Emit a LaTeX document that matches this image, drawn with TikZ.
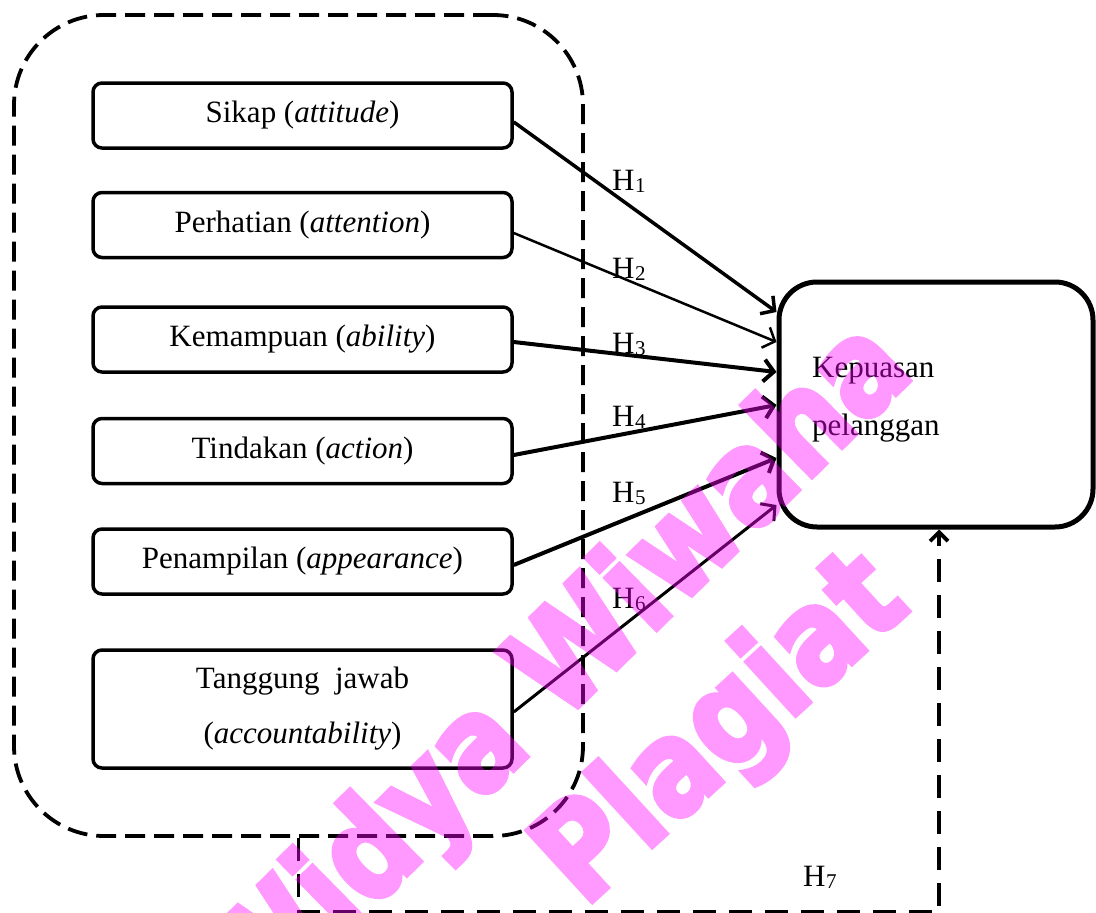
\documentclass[tikz,border=0pt]{standalone}
\usepackage{fontspec}
\setmainfont{Liberation Serif}
\newfontfamily\wmfont{DejaVu Sans}[FakeBold=4]
\usetikzlibrary{arrows.meta}
\definecolor{wmc}{RGB}{255,0,255}
\newcommand{\hlabtxt}[1]{H\kern0.5pt\raisebox{-2pt}{\fontsize{21}{21}\selectfont #1}}
\begin{document}
\begin{tikzpicture}[x=1pt,y=-1pt,
  every node/.style={font=\fontsize{31}{37}\selectfont, inner sep=0pt},
  fbox/.style={draw, line width=3.5pt, rounded corners=9pt, minimum width=419pt, minimum height=65pt, fill=white},
  grpbox/.style={draw, line width=3.8pt, dash pattern=on 20pt off 9pt, rounded corners=90pt, minimum width=569pt, minimum height=821pt},
  kpbox/.style={draw, line width=5pt, rounded corners=38pt, minimum width=314pt, minimum height=245pt, fill=white},
  arr/.style={-{Straight Barb[length=10pt,width=22pt]}},
  fb/.style={line width=3.8pt, dash pattern=on 23pt off 13pt, -{Straight Barb[length=9pt,width=18pt]}},
  hlab/.style={anchor=base west},
  wm/.style={text=wmc, font=\wmfont\bfseries\fontsize{132}{150}\selectfont}
]
\useasboundingbox (0,0) rectangle (1096,913);

\node[grpbox] (grp) at (298.5,425.5) {};

\node[fbox] (s1) at (302.5,115.5) {Sikap (\textit{attitude})};
\node[fbox] (s2) at (302.5,225) {Perhatian (\textit{attention})};
\node[fbox] (s3) at (302.5,339.5) {Kemampuan (\textit{ability})};
\node[fbox] (s4) at (302.5,451) {Tindakan (\textit{action})};
\node[fbox] (s5) at (302.5,561.5) {Penampilan (\textit{appearance})};
\node[fbox, minimum height=118pt, align=center, font=\fontsize{31}{55}\selectfont] (s6) at (302.5,709) {Tanggung\enspace jawab\\(\textit{accountability})};

\node[kpbox] (kp) at (936,404.5) {};
\node[anchor=base west] (kpt1) at (812,377) {Kepuasan};
\node[anchor=base west] (kpt2) at (812,435) {pelanggan};

\draw[arr, line width=3.5pt] ([yshift=-6.5pt]s1.east) -- ([yshift=92.5pt]kp.west);
\draw[arr, line width=2.5pt] ([yshift=-8pt]s2.east) -- ([yshift=62.5pt]kp.west);
\draw[arr, line width=4pt] ([yshift=-2.5pt]s3.east) -- ([yshift=32.5pt]kp.west);
\draw[arr, line width=4pt] ([yshift=-4pt]s4.east) -- ([yshift=-0.5pt]kp.west);
\draw[arr, line width=4pt] ([yshift=-3.5pt]s5.east) -- ([yshift=-53.5pt]kp.west);
\draw[arr, line width=3pt] ([yshift=-3pt]s6.east) -- ([yshift=-100.5pt]kp.west);

\draw[fb] (grp.south) -- ++(0,74) -| ([xshift=3pt]kp.south);

\node[hlab] (h1) at (612,190) {\hlabtxt{1}};
\node[hlab] (h2) at (612,278) {\hlabtxt{2}};
\node[hlab] (h3) at (612,353) {\hlabtxt{3}};
\node[hlab] (h4) at (612,426) {\hlabtxt{4}};
\node[hlab] (h5) at (612,502) {\hlabtxt{5}};
\node[hlab] (h6) at (612,608) {\hlabtxt{6}};
\node[hlab] (h7) at (803,886) {\hlabtxt{7}};

\begin{scope}[transparency group, opacity=0.4]
\node[wm, rotate=44.5, xscale=0.85] (wm1) at (560,674) {Widya Wiwaha};
\node[wm, rotate=42.5, xscale=0.85] (wm2) at (724,732) {Plagiat};
\end{scope}
\end{tikzpicture}
\end{document}
